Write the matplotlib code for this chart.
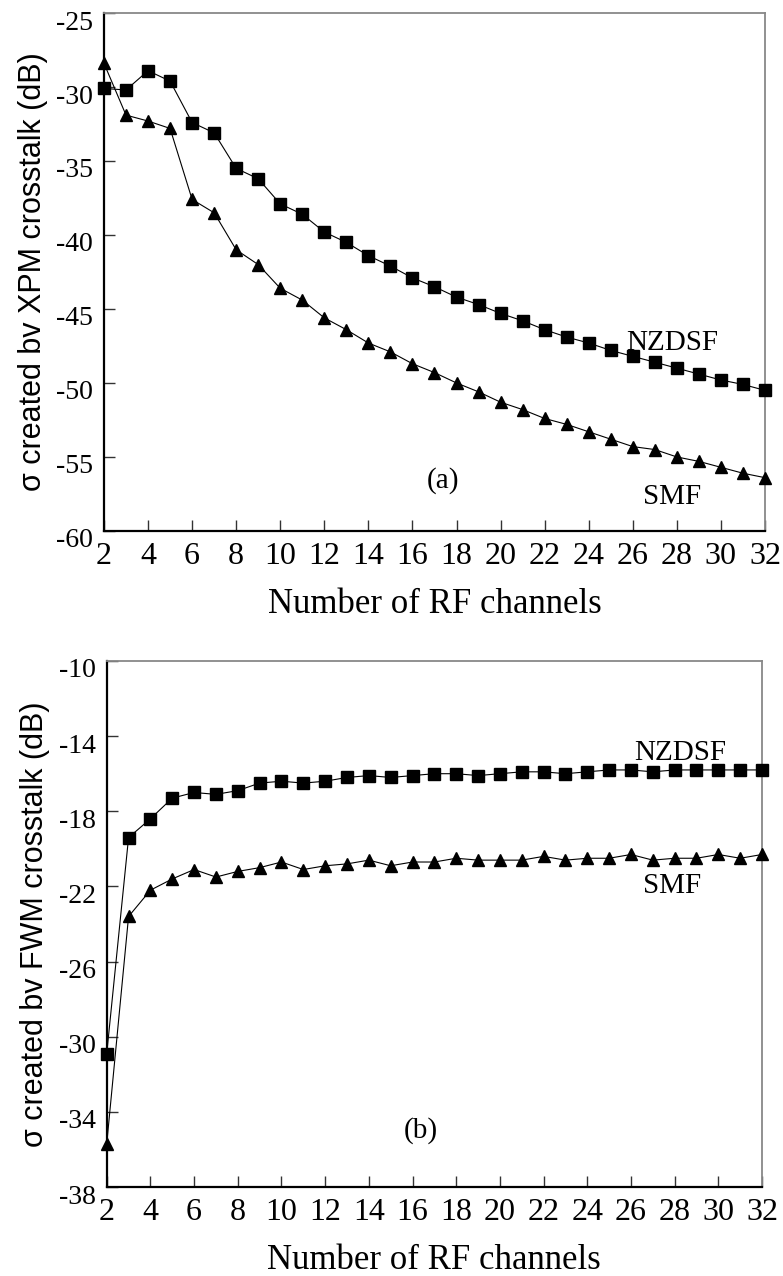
import numpy as np
import matplotlib
matplotlib.use("Agg")
import matplotlib.pyplot as plt
from matplotlib.transforms import ScaledTranslation

plt.rcParams["axes.unicode_minus"] = False

channels = list(range(2, 33))

# panel (a): XPM crosstalk
xpm_nzdsf = [-30.1, -30.2, -28.9, -29.6, -32.4, -33.1, -35.5, -36.2, -37.9, -38.6,
             -39.8, -40.5, -41.4, -42.1, -42.9, -43.5, -44.2, -44.7, -45.3, -45.8,
             -46.4, -46.9, -47.3, -47.8, -48.2, -48.6, -49.0, -49.4, -49.8, -50.1,
             -50.5]
xpm_smf = [-28.4, -31.9, -32.3, -32.8, -37.6, -38.5, -41.0, -42.0, -43.6, -44.4,
           -45.6, -46.4, -47.3, -47.9, -48.7, -49.3, -50.0, -50.6, -51.3, -51.8,
           -52.4, -52.8, -53.3, -53.8, -54.3, -54.5, -55.0, -55.3, -55.7, -56.1,
           -56.4]

# panel (b): FWM crosstalk
fwm_nzdsf = [-30.9, -19.4, -18.4, -17.3, -17.0, -17.1, -16.9, -16.5, -16.4, -16.5,
             -16.4, -16.2, -16.1, -16.2, -16.1, -16.0, -16.0, -16.1, -16.0, -15.9,
             -15.9, -16.0, -15.9, -15.8, -15.8, -15.9, -15.8, -15.8, -15.8, -15.8,
             -15.8]
fwm_smf = [-35.7, -23.6, -22.2, -21.6, -21.1, -21.5, -21.2, -21.0, -20.7, -21.1,
           -20.9, -20.8, -20.6, -20.9, -20.7, -20.7, -20.5, -20.6, -20.6, -20.6,
           -20.4, -20.6, -20.5, -20.5, -20.3, -20.6, -20.5, -20.5, -20.3, -20.5,
           -20.3]

xticks = list(range(2, 33, 2))
yticks_a = [-60, -55, -50, -45, -40, -35, -30, -25]
yticks_b = [-38, -34, -30, -26, -22, -18, -14, -10]

serif = "Liberation Serif"
sans = "Liberation Sans"

fig = plt.figure(figsize=(7.83, 12.76), dpi=100)
ax_a = fig.add_axes([0.1328, 0.5839, 0.977 - 0.1328, 0.9898 - 0.5839])
ax_b = fig.add_axes([0.1363, 0.0697, 0.9732 - 0.1363, 0.482 - 0.0697])


def style(ax, yticks, ylabel):
    ax.set_xlim(2, 32)
    ax.set_ylim(yticks[0], yticks[-1])
    ax.set_xticks(xticks)
    ax.set_yticks(yticks)
    ax.tick_params(direction="in", length=8, width=1, color="#333333")
    ax.tick_params(axis="y", pad=8, labelsize=20)
    ax.tick_params(axis="x", pad=8, labelsize=23)
    for lab in ax.get_xticklabels() + ax.get_yticklabels():
        lab.set_fontfamily(serif)
    for lab in ax.get_yticklabels():
        lab.set_transform(lab.get_transform() + ScaledTranslation(0, -0.07, fig.dpi_scale_trans))
    for s in ["left", "bottom"]:
        ax.spines[s].set_linewidth(1.6)
        ax.spines[s].set_color("black")
    for s in ["top", "right"]:
        ax.spines[s].set_linewidth(1.3)
        ax.spines[s].set_color("#888888")
    ax.set_xlabel("Number of RF channels", fontfamily=serif, fontsize=25, labelpad=12)
    ax.set_ylabel(ylabel, fontfamily=sans, fontsize=22, labelpad=6)


for ax, ny, sy in [(ax_a, xpm_nzdsf, xpm_smf), (ax_b, fwm_nzdsf, fwm_smf)]:
    ax.plot(channels, ny, color="black", lw=0.8, marker="s", markersize=8.5, clip_on=False, zorder=3)
    ax.plot(channels, sy, color="black", lw=0.8, marker="^", markersize=8.5, clip_on=False, zorder=3)

style(ax_a, yticks_a, "σ created bv XPM crosstalk (dB)")
style(ax_b, yticks_b, "σ created bv FWM crosstalk (dB)")

ax_a.text(27.8, -47.3, "NZDSF", fontfamily=serif, fontsize=21, ha="center", va="center")
ax_a.text(27.8, -57.7, "SMF", fontfamily=serif, fontsize=21, ha="center", va="center")
ax_a.text(17.4, -56.6, "(a)", fontfamily=serif, fontsize=21, ha="center", va="center")
ax_b.text(28.25, -14.9, "NZDSF", fontfamily=serif, fontsize=21, ha="center", va="center")
ax_b.text(27.9, -22.0, "SMF", fontfamily=serif, fontsize=21, ha="center", va="center")
ax_b.text(16.4, -35.0, "(b)", fontfamily=serif, fontsize=21, ha="center", va="center")

fig.savefig("out.png", dpi=100)
